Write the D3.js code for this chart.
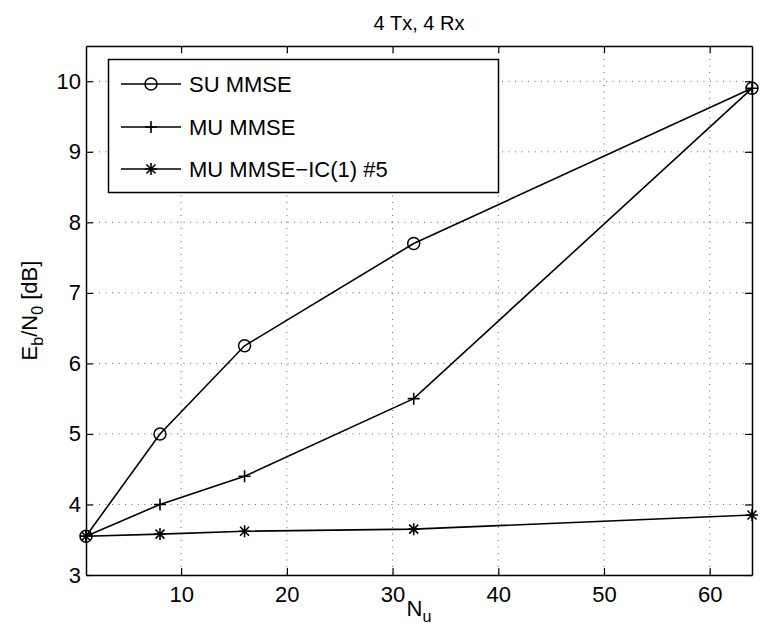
<!DOCTYPE html>
<html><head><meta charset="utf-8">
<script src="https://cdn.jsdelivr.net/npm/d3@7"></script>
<style>body{margin:0;background:#fff}svg{display:block}text{font-family:"Liberation Sans",Arial,sans-serif;fill:#000}</style>
</head><body>
<svg id="c" width="760" height="641"></svg>
<script>
const nu = [1, 8, 16, 32, 64];
const suMmse = [3.55, 5.0, 6.25, 7.7, 9.9];
const muMmse = [3.55, 4.0, 4.4, 5.5, 9.9];
const muMmseIc = [3.55, 3.58, 3.62, 3.65, 3.85];
const xTicks = [10, 20, 30, 40, 50, 60];
const yTicks = [3, 4, 5, 6, 7, 8, 9, 10];
const seriesNames = ["SU MMSE", "MU MMSE", "MU MMSE\u2212IC(1) #5"];
const markers = ["circle", "plus", "star"];

const L = 86, R = 752, T = 46, B = 575;
const FS = 22;
const svg = d3.select("#c");
const x = d3.scaleLinear().domain([1, 64]).range([L, R]);
const y = d3.scaleLinear().domain([3, 10.5]).range([B, T]);

// grid
const g = svg.append("g");
g.selectAll(".gx").data(xTicks).join("line")
  .attr("x1", d => x(d)).attr("x2", d => x(d)).attr("y1", T).attr("y2", B)
  .attr("stroke", "#000").attr("stroke-width", 0.6).attr("stroke-dasharray", "1,5.5");
g.selectAll(".gy").data(yTicks.slice(1)).join("line")
  .attr("y1", d => y(d)).attr("y2", d => y(d)).attr("x1", L).attr("x2", R)
  .attr("stroke", "#000").attr("stroke-width", 0.6).attr("stroke-dasharray", "1,5.5");

// axes
const tl = 7;
const axB = svg.append("g").attr("transform", `translate(0,${B})`)
  .call(d3.axisBottom(x).tickValues(xTicks).tickSize(-tl).tickPadding(11).tickSizeOuter(0));
const axT = svg.append("g").attr("transform", `translate(0,${T})`)
  .call(d3.axisTop(x).tickValues(xTicks).tickSize(-tl).tickFormat("").tickSizeOuter(0));
const axL = svg.append("g").attr("transform", `translate(${L},0)`)
  .call(d3.axisLeft(y).tickValues(yTicks).tickSize(-tl).tickPadding(5).tickSizeOuter(0));
const axR = svg.append("g").attr("transform", `translate(${R},0)`)
  .call(d3.axisRight(y).tickValues(yTicks).tickSize(-tl).tickFormat("").tickSizeOuter(0));
[axB, axT, axL, axR].forEach(a => {
  a.select(".domain").attr("stroke", "#000").attr("stroke-width", 1.5);
  a.selectAll(".tick line").attr("stroke", "#000").attr("stroke-width", 1.2);
  a.selectAll("text").attr("font-size", FS).attr("font-family", "Liberation Sans, Arial, sans-serif").attr("fill", "#000");
});
axB.selectAll("text").attr("dy", "0.71em");

// lines
const allSeries = [suMmse, muMmse, muMmseIc];
const line = d3.line().x((d, i) => x(nu[i])).y(d => y(d));
function drawMarker(sel, type, cx, cy) {
  const s = 6;
  if (type === "circle") {
    sel.append("circle").attr("cx", cx).attr("cy", cy).attr("r", s)
      .attr("fill", "none").attr("stroke", "#000").attr("stroke-width", 1.5);
  } else if (type === "plus") {
    sel.append("path").attr("d", `M${cx - s},${cy}H${cx + s}M${cx},${cy - s}V${cy + s}`)
      .attr("stroke", "#000").attr("stroke-width", 1.6).attr("fill", "none");
  } else {
    const d = s * 0.75;
    sel.append("path").attr("d", `M${cx - s},${cy}H${cx + s}M${cx},${cy - s}V${cy + s}M${cx - d},${cy - d}L${cx + d},${cy + d}M${cx - d},${cy + d}L${cx + d},${cy - d}`)
      .attr("stroke", "#000").attr("stroke-width", 1.6).attr("fill", "none");
  }
}
allSeries.forEach((s, k) => {
  svg.append("path").datum(s).attr("d", line).attr("fill", "none")
    .attr("stroke", "#000").attr("stroke-width", 1.6);
  const mg = svg.append("g");
  s.forEach((v, i) => drawMarker(mg, markers[k], x(nu[i]), y(v)));
});

// legend
const lg = svg.append("g");
lg.append("rect").attr("x", 108.5).attr("y", 59.5).attr("width", 390).attr("height", 133)
  .attr("fill", "#fff").attr("stroke", "#000").attr("stroke-width", 1.5);
const rowsY = [84, 127, 169];
seriesNames.forEach((n, k) => {
  lg.append("line").attr("x1", 121).attr("x2", 181).attr("y1", rowsY[k]).attr("y2", rowsY[k])
    .attr("stroke", "#000").attr("stroke-width", 1.5);
  drawMarker(lg, markers[k], 151, rowsY[k]);
  lg.append("text").attr("x", 189).attr("y", rowsY[k]).attr("dy", "0.36em")
    .attr("font-size", FS).text(n);
});

// title
svg.append("text").attr("x", (L + R) / 2).attr("y", 30).attr("text-anchor", "middle")
  .attr("font-size", 20).text("4 Tx, 4 Rx");

// x label
const xl = svg.append("text").attr("x", (L + R) / 2).attr("y", 616).attr("text-anchor", "middle")
  .attr("font-size", FS);
xl.append("tspan").text("N");
xl.append("tspan").attr("dy", 6).attr("font-size", 16).text("u");

// y label
const yl = svg.append("text").attr("transform", `translate(37,${(T + B) / 2}) rotate(-90)`)
  .attr("text-anchor", "middle").attr("font-size", FS);
yl.append("tspan").text("E");
yl.append("tspan").attr("dy", 6).attr("font-size", 16).text("b");
yl.append("tspan").attr("dy", -6).text("/N");
yl.append("tspan").attr("dy", 6).attr("font-size", 16).text("0");
yl.append("tspan").attr("dy", -6).text(" [dB]");
</script>
</body></html>
